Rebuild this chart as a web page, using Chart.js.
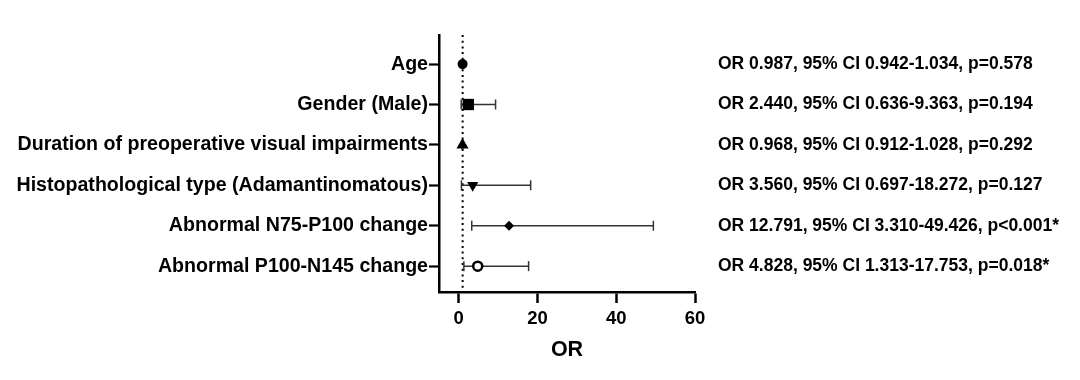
<!DOCTYPE html>
<html>
<head>
<meta charset="utf-8">
<script src="https://cdn.jsdelivr.net/npm/chart.js@4.4.0/dist/chart.umd.min.js"></script>
<style>
  html, body { margin: 0; padding: 0; background: #fff; }
</style>
</head>
<body>
<canvas id="forest" width="1080" height="380"></canvas>
<script>
// Datos del forest plot
const variables = [
  "Age",
  "Gender (Male)",
  "Duration of preoperative visual impairments",
  "Histopathological type (Adamantinomatous)",
  "Abnormal N75-P100 change",
  "Abnormal P100-N145 change",
];
const oddsRatios = [0.987, 2.44, 0.968, 3.56, 12.791, 4.828];
const ciLow = [0.942, 0.636, 0.912, 0.697, 3.31, 1.313];
const ciHigh = [1.034, 9.363, 1.028, 18.272, 49.426, 17.753];
const pValues = ["p=0.578", "p=0.194", "p=0.292", "p=0.127", "p<0.001*", "p=0.018*"];
const xTicks = [0, 20, 40, 60];
const referenceOR = 1;

// Rango de los ejes
const xMin = -5;
const xMax = 60;
const yMin = -0.72;
const yMax = 5.64;

// Estilo de cada marcador
const markerStyles = ["circle", "rect", "triangle", "triangle", "rectRot", "circle"];
const markerRotations = [0, 0, 0, 180, 0, 0];
const markerRadius = [5, 8, 7, 6.5, 5, 4.5];
const markerFill = ["#000", "#000", "#000", "#000", "#000", "#fff"];
const markerBorder = [0, 0, 0, 0, 0, 2.5];

const annotations = variables.map(
  (_, i) =>
    `OR ${oddsRatios[i].toFixed(3)}, 95% CI ${ciLow[i].toFixed(3)}-${ciHigh[i].toFixed(3)}, ${pValues[i]}`
);

const fontFamily = "'Liberation Sans', Arial, Helvetica, sans-serif";
const rowTicks = (scale) => {
  scale.ticks = variables.map((_, i) => ({ value: i }));
};

// Intervalos de confianza con topes verticales
const ciDatasets = variables.map((_, i) => ({
  type: "line",
  data: [
    { x: ciLow[i], y: i },
    { x: ciHigh[i], y: i },
  ],
  borderColor: "#333",
  borderWidth: 1.5,
  pointStyle: "line",
  pointRotation: 90,
  pointRadius: 5,
  pointBorderWidth: 1.5,
  order: 1,
}));

const ctx = document.getElementById("forest").getContext("2d");
const forestChart = new Chart(ctx, {
  type: "scatter",
  data: {
    datasets: [
      {
        data: oddsRatios.map((v, i) => ({ x: v, y: i })),
        pointStyle: markerStyles,
        rotation: markerRotations,
        radius: markerRadius,
        backgroundColor: markerFill,
        borderColor: "#000",
        borderWidth: markerBorder,
        order: 0,
      },
      ...ciDatasets,
      {
        type: "line",
        data: [
          { x: referenceOR, y: yMin },
          { x: referenceOR, y: yMax },
        ],
        borderColor: "#000",
        borderWidth: 2,
        borderDash: [2, 3.7],
        pointRadius: 0,
        order: 2,
      },
    ],
  },
  options: {
    responsive: false,
    animation: false,
    events: [],
    layout: { padding: { top: 35, left: 0, right: 0, bottom: 0 }, autoPadding: false },
    plugins: {
      legend: { display: false },
      tooltip: { enabled: false },
    },
    scales: {
      x: {
        type: "linear",
        min: xMin,
        max: xMax,
        afterBuildTicks: (s) => {
          s.ticks = xTicks.map((v) => ({ value: v }));
        },
        ticks: {
          color: "#000",
          padding: 5,
          font: { family: fontFamily, size: 18.5, weight: "bold" },
        },
        grid: {
          drawOnChartArea: false,
          tickLength: 11,
          tickWidth: 2.5,
          tickColor: "#000",
        },
        border: { color: "#000", width: 2.5 },
        title: {
          display: true,
          text: "OR",
          color: "#000",
          font: { family: fontFamily, size: 21.5, weight: "bold" },
          padding: { top: 0, bottom: 17 },
        },
        afterFit: (s) => {
          s.height = 88;
        },
      },
      y: {
        type: "linear",
        reverse: true,
        min: yMin,
        max: yMax,
        afterBuildTicks: rowTicks,
        ticks: {
          color: "#000",
          padding: 1,
          autoSkip: false,
          font: { family: fontFamily, size: 19.6, weight: "bold" },
          callback: (v) => variables[v],
        },
        grid: {
          drawOnChartArea: false,
          tickLength: 10,
          tickWidth: 2.2,
          tickColor: "#000",
        },
        border: { color: "#000", width: 2.5 },
        afterFit: (s) => {
          s.width = 439;
        },
      },
      y2: {
        type: "linear",
        position: "right",
        reverse: true,
        min: yMin,
        max: yMax,
        afterBuildTicks: rowTicks,
        ticks: {
          color: "#000",
          padding: 23,
          autoSkip: false,
          font: { family: fontFamily, size: 17.5, weight: "bold" },
          callback: (v) => annotations[v],
        },
        grid: { display: false, drawTicks: false },
        border: { display: false },
        afterFit: (s) => {
          s.width = 385;
        },
      },
    },
  },
});
</script>
</body>
</html>
